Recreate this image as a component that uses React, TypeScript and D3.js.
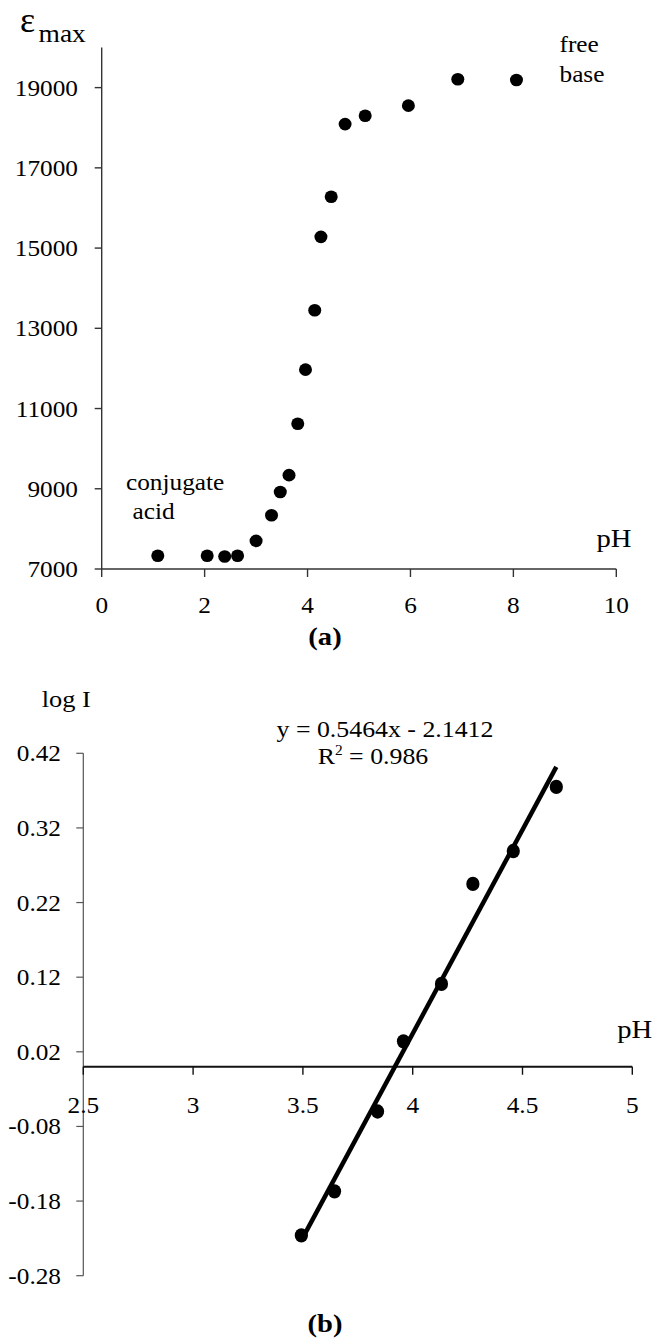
import * as d3 from "d3";

// ---- panel (a): absorbance maximum vs pH ----
const phA = [1.09, 2.05, 2.39, 2.64, 3.0, 3.3, 3.47, 3.64, 3.81, 3.96, 4.14, 4.26, 4.46, 4.73, 5.12, 5.96, 6.92, 8.06];
const epsA = [7330, 7330, 7310, 7330, 7700, 8340, 8920, 9340, 10620, 11970, 13450, 15280, 16280, 18090, 18300, 18550, 19210, 19190];
const xTicksA = [0, 2, 4, 6, 8, 10];
const yTicksA = [7000, 9000, 11000, 13000, 15000, 17000, 19000];

// ---- panel (b): log I vs pH ----
const phB = [3.493, 3.644, 3.84, 3.958, 4.131, 4.274, 4.458, 4.654];
const logI = [-0.226, -0.167, -0.06, 0.034, 0.111, 0.245, 0.289, 0.375];
const xTicksB = [2.5, 3, 3.5, 4, 4.5, 5];
const yTicksB = [-0.28, -0.18, -0.08, 0.02, 0.12, 0.22, 0.32, 0.42];
const slope = 0.5464;
const intercept = -2.1412;

const FONT = "'Liberation Serif', 'Times New Roman', serif";
const SX = 1.1; // the source figure is stretched a little sideways

function T({ x, y, size = 23, anchor = "start", bold = false, children }: any) {
  return (
    <text
      transform={`translate(${x},${y}) scale(${SX},1)`}
      textAnchor={anchor}
      fontSize={size}
      fontWeight={bold ? "bold" : "normal"}
      fontFamily={FONT}
      fill="#000"
    >
      {children}
    </text>
  );
}

export default function App() {
  const xa = d3.scaleLinear().domain([0, 10]).range([101.7, 616.3]);
  const ya = d3.scaleLinear().domain([7000, 20000]).range([569, 47.5]);

  const xb = d3.scaleLinear().domain([2.5, 5]).range([83.3, 632.3]);
  const yb = d3.scaleLinear().domain([-0.28, 0.42]).range([1275.7, 753.3]);

  const fitX = d3.extent(phB) as [number, number];
  const fitLine = d3
    .line<number>()
    .x((d) => xb(d))
    .y((d) => yb(slope * d + intercept))(fitX);

  return (
    <div style={{ position: "absolute", left: 0, top: 0 }}>
      <svg width={654} height={1339} style={{ display: "block", background: "#fff" }}>
        {/* ===== panel (a) ===== */}
        <g>
          <line x1={xa(0)} x2={xa(0)} y1={ya(20000)} y2={ya(7000)} stroke="#333" strokeWidth={1.4} />
          <line x1={xa(0)} x2={xa(10)} y1={ya(7000)} y2={ya(7000)} stroke="#333" strokeWidth={1.6} />
          {yTicksA.map((t) => (
            <g key={t}>
              <line x1={xa(0) - 7} x2={xa(0)} y1={ya(t)} y2={ya(t)} stroke="#333" strokeWidth={1.4} />
              <T x={78} y={ya(t) + 8} anchor="end">{t}</T>
            </g>
          ))}
          {xTicksA.map((t) => (
            <g key={t}>
              <line x1={xa(t)} x2={xa(t)} y1={ya(7000)} y2={ya(7000) + 8} stroke="#333" strokeWidth={1.4} />
              <T x={xa(t)} y={613} anchor="middle">{t}</T>
            </g>
          ))}
          {phA.map((p, i) => (
            <ellipse key={i} cx={xa(p)} cy={ya(epsA[i])} rx={6.5} ry={6.3} fill="#000" />
          ))}
          <text x={20} y={31.5} fontSize={36} fontFamily={FONT} fill="#000">ε</text>
          <T x={38.5} y={41.7} size={25}>max</T>
          <T x={559.5} y={51.7}>free</T>
          <T x={559.5} y={81.7}>base</T>
          <T x={126} y={490}>conjugate</T>
          <T x={132.5} y={519}>acid</T>
          <T x={596.5} y={546.7} size={26}>pH</T>
          <T x={325} y={645} size={26} anchor="middle" bold>(a)</T>
        </g>

        {/* ===== panel (b) ===== */}
        <g>
          <line x1={xb(2.5)} x2={xb(2.5)} y1={yb(0.42)} y2={yb(-0.28)} stroke="#555" strokeWidth={1.2} />
          <line x1={xb(2.5)} x2={xb(5)} y1={yb(0)} y2={yb(0)} stroke="#111" strokeWidth={1.8} />
          {yTicksB.map((t) => (
            <g key={t}>
              <line x1={xb(2.5) - 7} x2={xb(2.5)} y1={yb(t)} y2={yb(t)} stroke="#555" strokeWidth={1.2} />
              <T x={61} y={yb(t) + 8} anchor="end">{t}</T>
            </g>
          ))}
          {xTicksB.map((t) => (
            <g key={t}>
              <line x1={xb(t)} x2={xb(t)} y1={yb(0)} y2={yb(0) + 8} stroke="#111" strokeWidth={1.4} />
              <T x={xb(t)} y={1112.7} anchor="middle">{t}</T>
            </g>
          ))}
          <path d={fitLine ?? ""} stroke="#000" strokeWidth={4.5} fill="none" />
          {phB.map((p, i) => (
            <ellipse key={i} cx={xb(p)} cy={yb(logI[i])} rx={6.6} ry={7.2} fill="#000" />
          ))}
          <T x={41.7} y={706.7} size={24}>log I</T>
          <T x={385} y={736.7} size={23.5} anchor="middle">
            {"y = 0.5464x  - 2.1412"}
          </T>
          <T x={373} y={764} size={23.5} anchor="middle">
            R<tspan fontSize={14} dy={-9}>2</tspan>
            <tspan dy={9}> = 0.986</tspan>
          </T>
          <T x={617.3} y={1038} size={26}>pH</T>
          <T x={325} y={1332} size={26} anchor="middle" bold>(b)</T>
        </g>
      </svg>
    </div>
  );
}
